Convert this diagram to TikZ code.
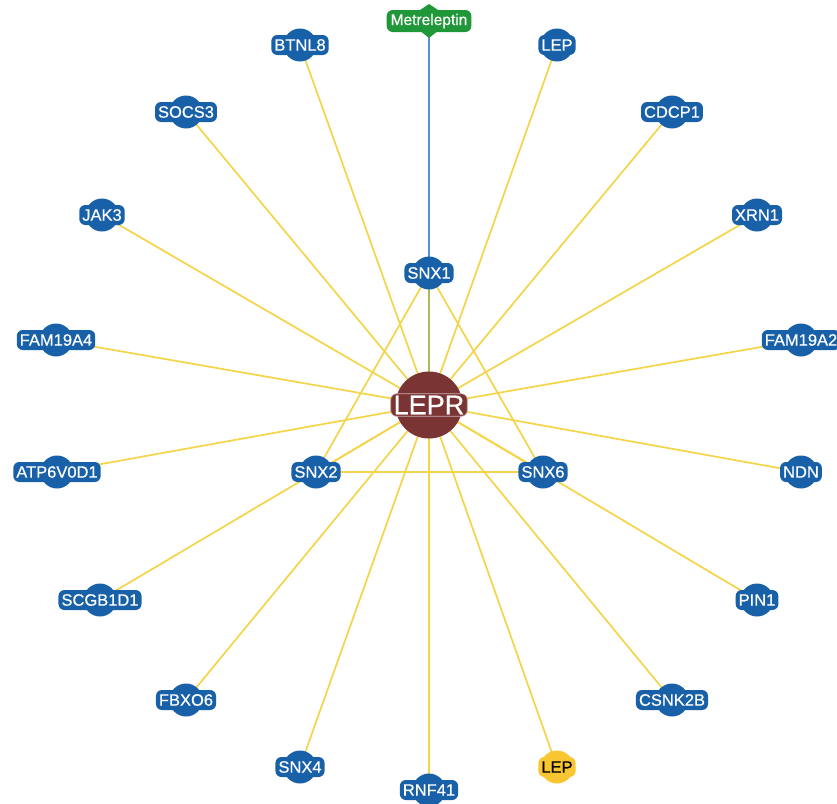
\documentclass[tikz,border=0pt]{standalone}
\usepackage{fontspec}
\setmainfont{Liberation Sans}
\newfontfamily\tagfont[FakeBold=0.6]{Liberation Sans}
\usetikzlibrary{backgrounds}
\definecolor{geneblue}{RGB}{24,96,168}
\definecolor{hubred}{RGB}{122,52,52}
\definecolor{druggreen}{RGB}{32,152,58}
\definecolor{linkyellow}{RGB}{244,212,72}
\definecolor{linkblue}{RGB}{92,142,222}
\definecolor{linkolive}{RGB}{170,188,92}
\definecolor{ligandyellow}{RGB}{248,198,48}
\tikzset{
  x=1pt, y=-1pt,
  blob/.style={circle, fill=geneblue, minimum size=33pt, inner sep=0pt},
  genelab/.style={rounded corners=6pt, fill=geneblue, text=white,
    font=\tagfont\fontsize{16.5}{16.5}\selectfont, inner xsep=3pt, inner ysep=2pt,
    minimum height=20pt},
  ligandblob/.style={blob, fill=ligandyellow},
  ligandlab/.style={genelab, fill=ligandyellow, text=black},
  link/.style={draw=linkyellow, line width=1.7pt},
}
% one gene: a round body with its name on a rounded tag
\newcommand{\gene}[4][]{%
  \node[blob,#1] (#2) at #3 {};
  \node[genelab] at (#2.center) {#4};}
\begin{document}
\begin{tikzpicture}
\useasboundingbox (0,0) rectangle (837,803);

% hub
\node[circle, fill=hubred, minimum size=67pt, inner sep=0pt] (LEPR) at (429,405) {};
\node[rounded corners=6pt, fill=hubred, draw=hubred!40!white, line width=0.6pt,
      text=white, font=\tagfont\fontsize{27}{27}\selectfont, inner xsep=3pt, inner ysep=2pt]
      at (LEPR.center) {LEPR};

% drug
\coordinate (Metreleptin) at (429,21);
\fill[druggreen] (417,12) -- (429,4) -- (441,12) -- cycle;
\fill[druggreen] (419,30) -- (429,38) -- (439,30) -- cycle;
\node[rounded corners=6pt, fill=druggreen, text=white,
      font=\tagfont\fontsize{15.5}{15.5}\selectfont, inner xsep=4pt, inner ysep=2pt,
      minimum height=22pt] (drug) at (Metreleptin) {Metreleptin};

% genes
\gene{BTNL8}{(300,45)}{BTNL8}
\gene{LEPa}{(557,45)}{LEP}
\gene{SOCS3}{(186,112)}{SOCS3}
\gene{CDCP1}{(672,112)}{CDCP1}
\gene{JAK3}{(102,215)}{JAK3}
\gene{XRN1}{(757,215)}{XRN1}
\gene{SNX1}{(429,273)}{SNX1}
\gene{FAM19A4}{(56,340)}{FAM19A4}
\gene{FAM19A2}{(801,340)}{FAM19A2}
\gene{ATP6V0D1}{(57,472)}{ATP6V0D1}
\gene{SNX2}{(316,472)}{SNX2}
\gene{SNX6}{(543,472)}{SNX6}
\gene{NDN}{(801,472)}{NDN}
\gene{SCGB1D1}{(100,600)}{SCGB1D1}
\gene{PIN1}{(757,600)}{PIN1}
\gene{FBXO6}{(186,700)}{FBXO6}
\gene{CSNK2B}{(672,700)}{CSNK2B}
\gene{SNX4}{(300,767)}{SNX4}
\gene{RNF41}{(429,790)}{RNF41}

% ligand
\node[ligandblob] (LEPb) at (557,767) {};
\node[ligandlab] at (LEPb.center) {LEP};

% interactions
\begin{scope}[on background layer]
  \foreach \g in {BTNL8,LEPa,SOCS3,CDCP1,JAK3,XRN1,FAM19A4,FAM19A2,
                  ATP6V0D1,SNX2,SNX6,NDN,SCGB1D1,PIN1,FBXO6,CSNK2B,
                  SNX4,RNF41,LEPb}
    \draw[link] (\g.center) -- (LEPR.center);
  \draw[link] (SNX1.center) -- (SNX2.center);
  \draw[link] (SNX1.center) -- (SNX6.center);
  \draw[link] (SNX2.center) -- (SNX6.center);
  \draw[draw=linkolive, line width=1.6pt] (SNX1.center) -- (LEPR.center);
  \draw[draw=linkblue, line width=1.3pt] (Metreleptin) -- (SNX1.center);
\end{scope}
\end{tikzpicture}
\end{document}
